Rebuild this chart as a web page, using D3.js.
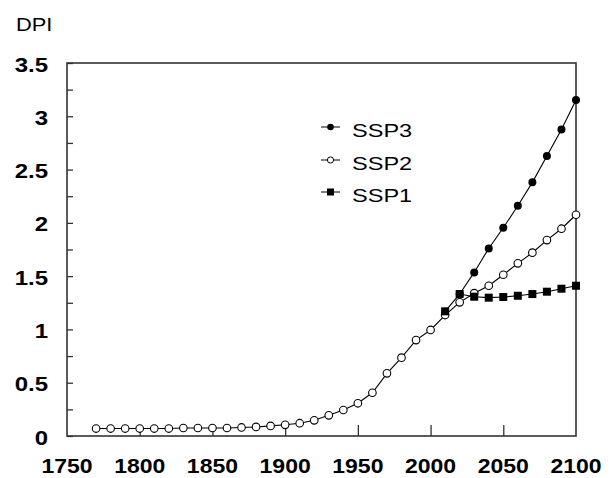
<!DOCTYPE html>
<html>
<head>
<meta charset="utf-8">
<script src="https://cdn.jsdelivr.net/npm/d3@7/dist/d3.min.js"></script>
<style>
  html, body { margin: 0; padding: 0; background: #fff; }
  svg { display: block; }
  text { font-family: "Liberation Sans", Arial, Helvetica, sans-serif; fill: #000; }
</style>
</head>
<body>
<script>
// DPI by scenario, decadal values
const yearsHist = [1770, 1780, 1790, 1800, 1810, 1820, 1830, 1840, 1850, 1860,
                   1870, 1880, 1890, 1900, 1910, 1920, 1930, 1940, 1950, 1960,
                   1970, 1980, 1990, 2000, 2010, 2020, 2030, 2040, 2050, 2060,
                   2070, 2080, 2090, 2100];
const ssp2 = [0.07, 0.07, 0.07, 0.07, 0.07, 0.07, 0.075, 0.075, 0.075, 0.075,
              0.08, 0.085, 0.095, 0.105, 0.12, 0.147, 0.194, 0.244, 0.307, 0.406,
              0.588, 0.735, 0.90, 0.995, 1.135, 1.254, 1.34, 1.41, 1.513, 1.62,
              1.72, 1.838, 1.945, 2.076];
const yearsSsp1 = [2010, 2020, 2030, 2040, 2050, 2060, 2070, 2080, 2090, 2100];
const ssp1 = [1.17, 1.332, 1.307, 1.298, 1.304, 1.316, 1.332, 1.354, 1.382, 1.41];
const yearsSsp3 = [2020, 2030, 2040, 2050, 2060, 2070, 2080, 2090, 2100];
const ssp3 = [1.332, 1.535, 1.76, 1.954, 2.16, 2.38, 2.627, 2.877, 3.152];

const xTickLabels = [1750, 1800, 1850, 1900, 1950, 2000, 2050, 2100];
const xTickMarks = [1800, 1850, 1900, 1950, 2000, 2050];
const yTickLabels = ["0", "0.5", "1", "1.5", "2", "2.5", "3", "3.5"];
const yTickMarks = [0, 0.25, 0.5, 0.75, 1, 1.25, 1.5, 1.75, 2, 2.25, 2.5, 2.75, 3, 3.25, 3.5];
const legendNames = ["SSP3", "SSP2", "SSP1"];

const W = 612, H = 478;
const SX = 1.15; // horizontal stretch of the lettering

const svg = d3.select("body").append("svg").attr("width", W).attr("height", H);

const x = d3.scaleLinear().domain([1750, 2100]).range([67, 576]);
const y = d3.scaleLinear().domain([0, 3.5]).range([436, 63]);

const axisColor = "#333";

// inward ticks
const yAxis = svg.append("g").attr("transform", `translate(${x(1750)},0)`)
  .call(d3.axisRight(y).tickValues(yTickMarks).tickSize(6).tickFormat(""));
const xAxis = svg.append("g").attr("transform", `translate(0,${y(0)})`)
  .call(d3.axisTop(x).tickValues(xTickMarks).tickSize(11).tickFormat(""));
[yAxis, xAxis].forEach(g => {
  g.select(".domain").remove();
  g.selectAll("line").attr("stroke", axisColor).attr("stroke-width", 1.3);
});

// plot frame
svg.append("rect")
  .attr("x", x(1750)).attr("y", y(3.5))
  .attr("width", x(2100) - x(1750)).attr("height", y(0) - y(3.5))
  .attr("fill", "none").attr("stroke", axisColor).attr("stroke-width", 1.6);

// tick labels
svg.append("g").selectAll("text").data(yTickLabels).join("text")
  .attr("transform", d => `translate(${x(1750) - 19},${y(+d) + 1.5}) scale(1.2,1)`)
  .attr("text-anchor", "end").attr("dy", "0.35em")
  .style("font-size", "20px").style("font-weight", "bold")
  .text(d => d);

svg.append("g").selectAll("text").data(xTickLabels).join("text")
  .attr("transform", d => `translate(${x(d)},473) scale(${SX},1)`)
  .attr("text-anchor", "middle")
  .style("font-size", "20px").style("font-weight", "bold")
  .text(d => d);

// axis title
svg.append("text")
  .attr("transform", `translate(16,31) scale(1.15,1)`)
  .style("font-size", "19px")
  .text("DPI");

// series
const line = d3.line().x(d => x(d[0])).y(d => y(d[1]));
const zip = (xs, ys) => xs.map((v, i) => [v, ys[i]]);

const s2 = zip(yearsHist, ssp2);
const s3 = zip(yearsSsp3, ssp3);
const s1 = zip(yearsSsp1, ssp1);

function drawLine(data) {
  svg.append("path").datum(data).attr("d", line)
    .attr("fill", "none").attr("stroke", "#000").attr("stroke-width", 1.1);
}

drawLine(s2);
svg.append("g").selectAll("circle").data(s2).join("circle")
  .attr("cx", d => x(d[0])).attr("cy", d => y(d[1])).attr("r", 3.8)
  .attr("fill", "#fff").attr("stroke", "#000").attr("stroke-width", 1.1);

drawLine(s3);
svg.append("g").selectAll("circle").data(s3).join("circle")
  .attr("cx", d => x(d[0])).attr("cy", d => y(d[1])).attr("r", 4)
  .attr("fill", "#000");

drawLine(s1);
svg.append("g").selectAll("rect").data(s1).join("rect")
  .attr("x", d => x(d[0]) - 4).attr("y", d => y(d[1]) - 4)
  .attr("width", 8).attr("height", 8).attr("fill", "#000");

// legend
const legendY = [127, 160, 192];
const lg = svg.append("g");
legendNames.forEach((name, i) => {
  const cy = legendY[i];
  lg.append("line").attr("x1", 321).attr("x2", 340).attr("y1", cy).attr("y2", cy)
    .attr("stroke", "#000").attr("stroke-width", 1);
  if (name === "SSP3") {
    lg.append("circle").attr("cx", 330.5).attr("cy", cy).attr("r", 3.3).attr("fill", "#000");
  } else if (name === "SSP2") {
    lg.append("circle").attr("cx", 330.5).attr("cy", cy).attr("r", 3.1)
      .attr("fill", "#fff").attr("stroke", "#000").attr("stroke-width", 1);
  } else {
    lg.append("rect").attr("x", 327).attr("y", cy - 3.5).attr("width", 7).attr("height", 7)
      .attr("fill", "#000");
  }
  lg.append("text")
    .attr("transform", `translate(352,${cy + 3}) scale(1.24,1)`)
    .attr("dy", "0.35em")
    .style("font-size", "19px")
    .text(name);
});
</script>
</body>
</html>
